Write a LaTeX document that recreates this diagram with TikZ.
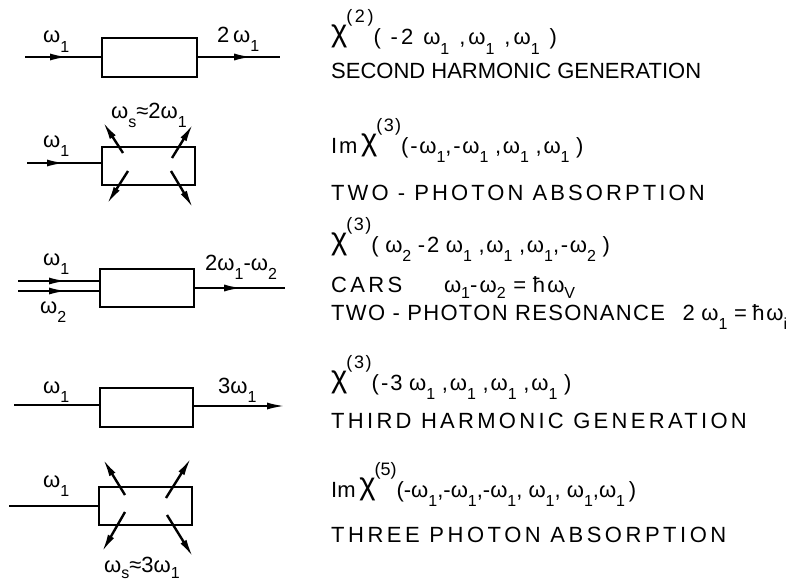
\documentclass[tikz,border=0pt]{standalone}
\usepackage{fontspec}
\setmainfont{Liberation Sans}
\usetikzlibrary{arrows.meta,decorations.markings}
\newcommand\sbs[1]{\raisebox{-0.42em}{\fontsize{16}{16}\selectfont #1}}
\newcommand\sbt[1]{\raisebox{-0.3em}{\fontsize{16}{16}\selectfont #1}}
\newcommand\w[1]{ω\sbs{#1}}
\newcommand\wt[1]{ω\sbt{#1}}
\newcommand\chis[1]{\raisebox{3pt}{\fontsize{31}{31}\selectfont χ}\kern-1pt\raisebox{1.0em}{\fontsize{18}{18}\selectfont(#1)}}
\newcommand\ls[1]{\addfontfeature{LetterSpace=#1}}
\newcommand\sk{\hspace{0.3em}}
\newcommand\skw{\hspace{0.45em}}
\tikzset{
  boxst/.style={draw,line width=2.4pt,inner sep=0pt},
  ln/.style={line width=2.2pt},
  tipst/.tip={Latex[length=18pt,width=7pt]},
  mid/.style={postaction={decorate,decoration={markings,mark=at position #1 with {\arrow{tipst}}}}},
  dg/.style={line width=2.4pt,-{tipst}},
  txt/.style={anchor=base west,inner sep=0pt,font=\fontsize{22}{26}\selectfont},
  lab/.style={anchor=base west,inner sep=0pt,font=\fontsize{22}{26}\selectfont}
}
\begin{document}
\begin{tikzpicture}[x=1pt,y=-1pt]
\useasboundingbox (0,0) rectangle (794,586);
% ---------- row 1
\node[boxst,minimum width=95pt,minimum height=39pt] (b1) at (149.5,57.5) {};
\coordinate (i1) at (25,57);
\coordinate (o1) at (280,57);
\draw[ln,mid=43pt] (i1) -- (i1 -| b1.west);
\draw[ln,mid=54pt] (o1 -| b1.east) -- (o1);
\node[lab] (l1a) at (43,43) {\w1};
\node[lab] (l1b) at (217,42) {2\,\w1};
% ---------- row 2
\node[boxst,minimum width=93pt,minimum height=38pt] (b2) at (148.5,166) {};
\coordinate (i2) at (27,163);
\draw[ln,mid=38pt] (i2) -- (i2 -| b2.west);
\coordinate (u2a) at (123,153); \coordinate (u2b) at (103,122);
\coordinate (v2a) at (172,158); \coordinate (v2b) at (193,124);
\coordinate (d2a) at (128,171); \coordinate (d2b) at (107,204);
\coordinate (e2a) at (171,171); \coordinate (e2b) at (193,208);
\draw[dg] (u2a) -- (u2b);
\draw[dg] (v2a) -- (v2b);
\draw[dg] (d2a) -- (d2b);
\draw[dg] (e2a) -- (e2b);
\node[lab] (l2a) at (43,147) {\w1};
\node[lab] (l2b) at (111,118) {ω\sbs{s}≈2ω\sbs{1}};
% ---------- row 3
\node[boxst,minimum width=94pt,minimum height=38pt] (b3) at (147,288) {};
\coordinate (i3a) at (18,281);
\coordinate (i3b) at (18,291);
\coordinate (o3) at (285,288);
\draw[ln,mid=49pt] (i3a) -- (i3a -| b3.west);
\draw[ln,mid=49pt] (i3b) -- (i3b -| b3.west);
\draw[ln,mid=47pt] (o3 -| b3.east) -- (o3);
\node[lab] (l3a) at (43,265) {\w1};
\node[lab] (l3b) at (40,313) {\w2};
\node[lab] (l3c) at (205,270) {2\w1-\w2};
% ---------- row 4
\node[boxst,minimum width=93pt,minimum height=39pt] (b4) at (146.5,407.5) {};
\coordinate (i4) at (14,405);
\coordinate (o4) at (285,406);
\draw[ln] (i4) -- (i4 -| b4.west);
\draw[ln,-{tipst}] (o4 -| b4.east) -- (o4);
\node[lab] (l4a) at (43,393) {\w1};
\node[lab] (l4b) at (218,393) {3\w1};
% ---------- row 5
\node[boxst,minimum width=93pt,minimum height=38pt] (b5) at (145.5,506) {};
\coordinate (i5) at (9,506);
\draw[ln] (i5) -- (i5 -| b5.west);
\coordinate (u5a) at (125,495); \coordinate (u5b) at (103,459);
\coordinate (v5a) at (166,498); \coordinate (v5b) at (191,458);
\coordinate (d5a) at (125,512); \coordinate (d5b) at (102,552);
\coordinate (e5a) at (167,515); \coordinate (e5b) at (193,557);
\draw[dg] (u5a) -- (u5b);
\draw[dg] (v5a) -- (v5b);
\draw[dg] (d5a) -- (d5b);
\draw[dg] (e5a) -- (e5b);
\node[lab] (l5a) at (43,487) {\w1};
\node[lab] (l5b) at (104,572) {ω\sbt{s}≈3ω\sbt{1}};
% ---------- right texts
\node[txt] (t1) at (331,45) {\ls{14}\chis{2}(\skw-2\skw\w1\skw,\w1\skw,\w1\skw)};
\node[txt] (t2) at (331,78) {SECOND HARMONIC GENERATION};
\node[txt] (t3) at (331,153) {\ls{8}Im\,\chis{3}(-\w1,-\w1\sk,\w1\sk,\w1\sk)};
\node[txt] (t4) at (331,200) {\ls{14}TWO - PHOTON ABSORPTION};
\node[txt] (t5) at (331,252) {\ls{8}\chis{3}(\sk\w2\sk-2\sk\w1\sk,\w1\sk,\w1,-\w2\sk)};
\node[txt] (t6) at (331,292) {{\ls{15}CARS}\hspace{1.9em}{\ls{10}\wt1-\wt2\hspace{0.35em}=\hspace{0.3em}ħ\wt{V}}};
\node[txt] (t7) at (331,320) {{\ls{6}TWO - PHOTON RESONANCE}\hspace{0.8em}{\ls{8}2\sk\w1\hspace{0.3em}=\hspace{0.25em}ħ\w{i}}};
\node[txt] (t8) at (331,390) {\ls{9}\chis{3}(-3\sk\w1\sk,\w1\sk,\w1\sk,\w1\sk)};
\node[txt] (t9) at (331,428) {\ls{15}THIRD HARMONIC GENERATION};
\node[txt] (t10) at (331,497) {Im\,\chis{5}(-\w1,-\w1,-\w1, \w1, \w1,\w1\,)};
\node[txt] (t11) at (331,542) {\ls{16}THREE PHOTON ABSORPTION};
\end{tikzpicture}
\end{document}
